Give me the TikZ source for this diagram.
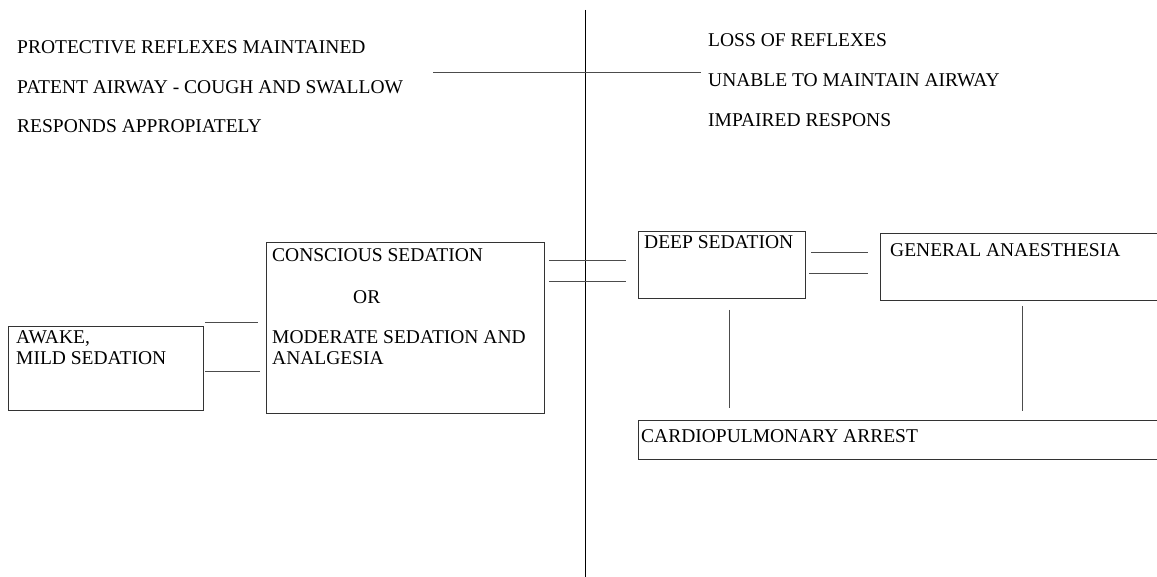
\documentclass[tikz,border=0pt]{standalone}
\usepackage{fontspec}
\setmainfont{Liberation Serif}
\begin{document}
\begin{tikzpicture}[x=1pt,y=-1pt,
  box/.style={draw=black!80,line width=0.9pt,anchor=north west,inner sep=0pt,outer sep=0pt},
  txt/.style={anchor=base west,inner sep=0pt,font=\fontsize{19.5}{23}\selectfont},
  conn/.style={draw=black!70,line width=0.9pt},
  axis/.style={draw=black,line width=0.9pt}]
\useasboundingbox (0,0) rectangle (1157,577);
\clip (0,0) rectangle (1157,577);
\fill[white] (0,0) rectangle (1157,577);
% axes
\coordinate (vtop) at (585,10);
\coordinate (vbot) at (585,577);
\coordinate (hl) at (433,72);
\coordinate (hr) at (701,72);
\draw[axis] (vtop) -- (vbot);
\draw[conn] (hl) -- (hr);
% top texts
\node[txt] (t1) at (17,54) {PROTECTIVE REFLEXES MAINTAINED};
\node[txt] (t2) at (17,94) {PATENT AIRWAY - COUGH AND SWALLOW};
\node[txt] (t3) at (17,133) {RESPONDS APPROPIATELY};
\node[txt] (t4) at (708,47) {LOSS OF REFLEXES};
\node[txt] (t5) at (708,87) {UNABLE TO MAINTAIN AIRWAY};
\node[txt] (t6) at (708,127) {IMPAIRED RESPONS};
% boxes
\node[box,minimum width=195pt,minimum height=84pt] (awake) at (8,326) {};
\node[txt] (awaket) at (16,344) {AWAKE,};
\node[txt] (awaket2) at (16,364) {MILD SEDATION};
\node[box,minimum width=278pt,minimum height=171pt] (consc) at (266,242) {};
\node[txt] (c1) at (272,262) {CONSCIOUS SEDATION};
\node[txt] (c2) at (353,304) {OR};
\node[txt] (c3) at (272,344) {MODERATE SEDATION AND};
\node[txt] (c4) at (272,364) {ANALGESIA};
\node[box,minimum width=167pt,minimum height=67pt] (deep) at (638,231) {};
\node[txt] (d1) at (644,249) {DEEP SEDATION};
\node[box,minimum width=290pt,minimum height=67pt] (gen) at (880,233) {};
\node[txt] (g1) at (890,257) {GENERAL ANAESTHESIA};
\node[box,minimum width=530pt,minimum height=39pt] (card) at (638,420) {};
\node[txt] (k1) at (641,442) {CARDIOPULMONARY ARREST};
% connectors (free-standing short lines)
\coordinate (a1) at (205,322); \coordinate (b1) at (258,322);
\coordinate (a2) at (205,371); \coordinate (b2) at (260,371);
\draw[conn] (a1) -- (b1);
\draw[conn] (a2) -- (b2);
\coordinate (c5) at (549,260); \coordinate (c6) at (626,260);
\coordinate (c7) at (549,281); \coordinate (c8) at (626,281);
\draw[conn] (c5) -- (c6);
\draw[conn] (c7) -- (c8);
\coordinate (e1) at (811,252); \coordinate (e2) at (868,252);
\coordinate (e3) at (809,273); \coordinate (e4) at (868,273);
\draw[conn] (e1) -- (e2);
\draw[conn] (e3) -- (e4);
\coordinate (f1) at (729,310); \coordinate (f2) at (729,408);
\coordinate (f3) at (1022,306); \coordinate (f4) at (1022,411);
\draw[conn] (f1) -- (f2);
\draw[conn] (f3) -- (f4);
\end{tikzpicture}
\end{document}
